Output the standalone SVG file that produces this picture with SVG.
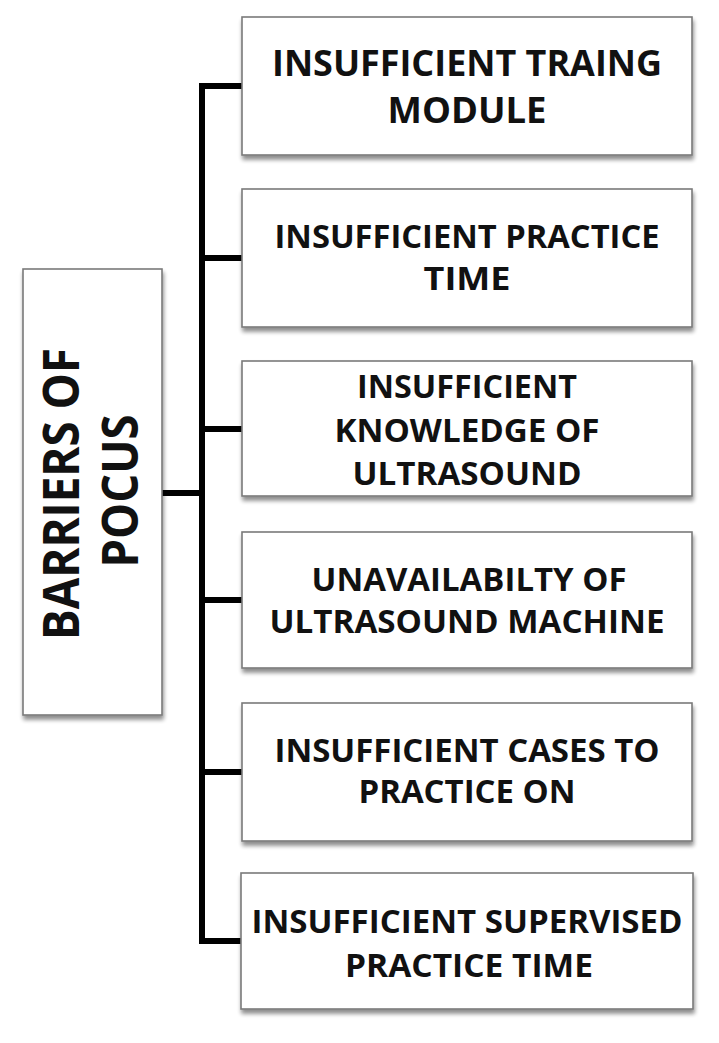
<svg xmlns="http://www.w3.org/2000/svg" width="719" height="1043" viewBox="0 0 719 1043">
  <defs>
    <filter id="shadow" x="-5%" y="-5%" width="115%" height="120%">
      <feGaussianBlur in="SourceAlpha" stdDeviation="2"/>
      <feOffset dx="1" dy="4" result="b"/>
      <feComponentTransfer><feFuncA type="linear" slope="0.45"/></feComponentTransfer>
      <feMerge><feMergeNode/><feMergeNode in="SourceGraphic"/></feMerge>
    </filter>
  </defs>
  <style>
    .box { fill: #ffffff; stroke: #7a7a7a; stroke-width: 1.6; filter: url(#shadow); }
    .lbl { font-family: "Open Sans", "Noto Sans", "Liberation Sans", sans-serif; font-weight: 700; fill: #111; text-anchor: middle; }
    .big { font-size: 36px; }
    .med { font-size: 32px; }
    .root { font-size: 50px; }
    .conn { stroke: #000; stroke-width: 6; fill: none; stroke-linecap: butt; }
  </style>
  <rect width="719" height="1043" fill="#ffffff"/>

  <g id="connectors">
    <line class="conn" x1="202" y1="83" x2="202" y2="944"/>
    <line class="conn" x1="162" y1="493" x2="205" y2="493"/>
    <line class="conn" x1="199" y1="86" x2="242" y2="86"/>
    <line class="conn" x1="199" y1="258" x2="242" y2="258"/>
    <line class="conn" x1="199" y1="429" x2="242" y2="429"/>
    <line class="conn" x1="199" y1="600" x2="242" y2="600"/>
    <line class="conn" x1="199" y1="772" x2="242" y2="772"/>
    <line class="conn" x1="199" y1="941" x2="242" y2="941"/>
  </g>

  <g id="root">
    <rect class="box" x="23" y="269" width="139" height="446"/>
    <text class="lbl root" transform="translate(79,494) rotate(-90)" textLength="292" lengthAdjust="spacingAndGlyphs">BARRIERS OF</text>
    <text class="lbl root" transform="translate(138,491) rotate(-90)" textLength="153" lengthAdjust="spacingAndGlyphs">POCUS</text>
  </g>

  <g id="n1">
    <rect class="box" x="242" y="17" width="450" height="138"/>
    <text class="lbl big" x="467" y="76" textLength="390" lengthAdjust="spacingAndGlyphs">INSUFFICIENT TRAING</text>
    <text class="lbl big" x="467" y="123" textLength="159" lengthAdjust="spacingAndGlyphs">MODULE</text>
  </g>

  <g id="n2">
    <rect class="box" x="242" y="189" width="450" height="138"/>
    <text class="lbl med" x="467" y="248" textLength="385" lengthAdjust="spacingAndGlyphs">INSUFFICIENT PRACTICE</text>
    <text class="lbl med" x="467" y="290" textLength="87" lengthAdjust="spacingAndGlyphs">TIME</text>
  </g>

  <g id="n3">
    <rect class="box" x="242" y="361" width="450" height="135"/>
    <text class="lbl med" x="467" y="398" textLength="220" lengthAdjust="spacingAndGlyphs">INSUFFICIENT</text>
    <text class="lbl med" x="467" y="442" textLength="265" lengthAdjust="spacingAndGlyphs">KNOWLEDGE OF</text>
    <text class="lbl med" x="467" y="485" textLength="229" lengthAdjust="spacingAndGlyphs">ULTRASOUND</text>
  </g>

  <g id="n4">
    <rect class="box" x="242" y="532" width="450" height="136"/>
    <text class="lbl med" x="469" y="591" textLength="315" lengthAdjust="spacingAndGlyphs">UNAVAILABILTY OF</text>
    <text class="lbl med" x="467" y="633" textLength="395" lengthAdjust="spacingAndGlyphs">ULTRASOUND MACHINE</text>
  </g>

  <g id="n5">
    <rect class="box" x="242" y="703" width="450" height="138"/>
    <text class="lbl med" x="467" y="762" textLength="385" lengthAdjust="spacingAndGlyphs">INSUFFICIENT CASES TO</text>
    <text class="lbl med" x="467" y="803" textLength="217" lengthAdjust="spacingAndGlyphs">PRACTICE ON</text>
  </g>

  <g id="n6">
    <rect class="box" x="241" y="873" width="452" height="136"/>
    <text class="lbl med" x="467" y="933" textLength="431" lengthAdjust="spacingAndGlyphs">INSUFFICIENT SUPERVISED</text>
    <text class="lbl med" x="469" y="977" textLength="248" lengthAdjust="spacingAndGlyphs">PRACTICE TIME</text>
  </g>
</svg>
